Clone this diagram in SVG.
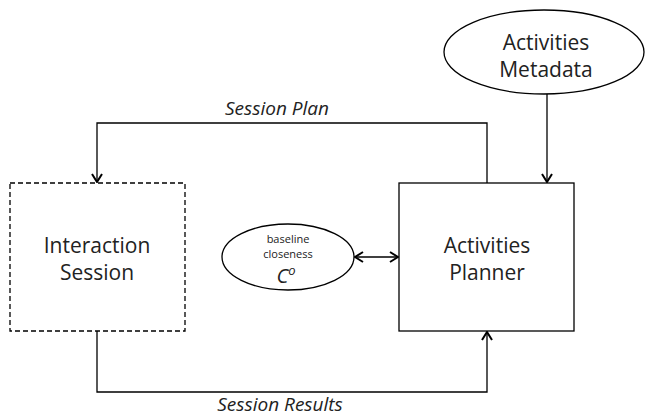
<svg xmlns="http://www.w3.org/2000/svg" width="647" height="418" viewBox="0 0 647 418">
<style>
.box{fill:#fff;stroke:#000;stroke-width:1.3}
.dash{stroke-dasharray:5,3}
.t{font-family:"Open Sans",Lato,"Liberation Sans",sans-serif;font-size:21px;fill:#222;text-anchor:middle}
.s{font-size:11px}
.i{font-style:italic;font-size:19px}
.line{fill:none;stroke:#000;stroke-width:1.3}
</style>
<defs>
<marker id="ah" viewBox="0 0 12 12" refX="11" refY="6" markerWidth="12" markerHeight="12" markerUnits="userSpaceOnUse" orient="auto-start-reverse">
<path d="M3,1 L11,6 L3,11" fill="none" stroke="#000" stroke-width="2"/>
</marker>
</defs>
<g id="connectors">
<path class="line" d="M487,183 V123 H97 V182" marker-end="url(#ah)"/>
<path class="line" d="M97,331 V392 H487 V332" marker-end="url(#ah)"/>
<path class="line" d="M547,94 V182" marker-end="url(#ah)"/>
<path class="line" d="M355,257 H398" marker-start="url(#ah)" marker-end="url(#ah)"/>
<text class="t i" x="277" y="115">Session Plan</text>
<text class="t i" x="280" y="411">Session Results</text>
</g>
<g id="interaction-session">
<rect class="box dash" x="10" y="183" width="175" height="148"/>
<text class="t" x="97" y="253">Interaction</text>
<text class="t" x="97" y="280">Session</text>
</g>
<g id="activities-planner">
<rect class="box" x="399" y="183" width="175" height="148"/>
<text class="t" x="487" y="253">Activities</text>
<text class="t" x="487" y="280">Planner</text>
</g>
<g id="activities-metadata">
<ellipse class="box" cx="544" cy="52" rx="100" ry="42"/>
<text class="t" x="546" y="50">Activities</text>
<text class="t" x="546" y="77">Metadata</text>
</g>
<g id="baseline-closeness">
<ellipse class="box" cx="288" cy="257" rx="66" ry="33"/>
<text class="t s" x="288" y="243">baseline</text>
<text class="t s" x="288" y="258">closeness</text>
<text class="t" x="286" y="283" style="font-style:italic;font-size:20px">C<tspan dy="-8" style="font-size:13px">o</tspan></text>
</g>
</svg>
